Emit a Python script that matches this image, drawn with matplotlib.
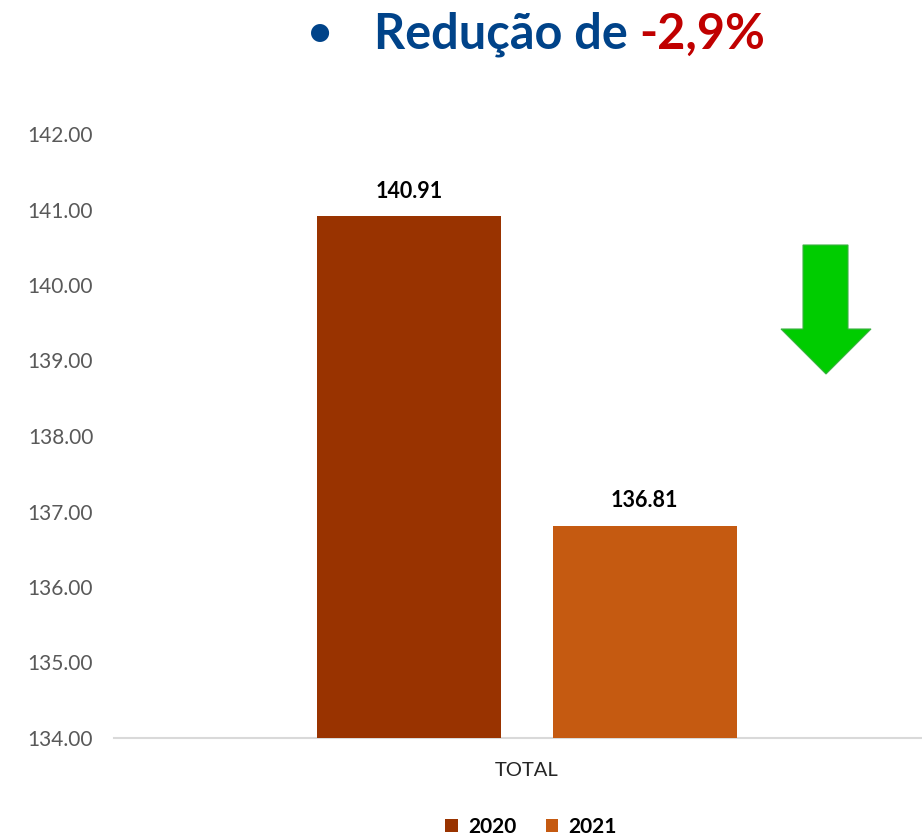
import matplotlib
matplotlib.use("Agg")
import matplotlib.pyplot as plt
from matplotlib.patches import Polygon
import numpy as np

categories = ["TOTAL"]
series_names = ["2020", "2021"]
values_2020 = [140.91]
values_2021 = [136.81]
y_ticks = [134, 135, 136, 137, 138, 139, 140, 141, 142]
title_main = "Redução de "
title_pct = "-2,9%"

colors = ["#993300", "#C55A11"]
FONT = ["Lato", "DejaVu Sans"]
plt.rcParams["font.family"] = FONT

W, H = 922, 836
fig = plt.figure(figsize=(W / 100, H / 100), dpi=100)

def fx(px):
    return px / W

def fy(py):
    return 1 - py / H

ax = fig.add_axes([fx(114), fy(738), fx(940) - fx(114), fy(134) - fy(738)])

x = np.arange(len(categories))
width = 0.223
offset = 0.1425
series = [values_2020, values_2021]
for i, (name, vals) in enumerate(zip(series_names, series)):
    pos = x + (i - 0.5) * 2 * offset
    bars = ax.bar(pos, [v - 134 for v in vals], width, bottom=134,
                  color=colors[i], label=name, zorder=3)
    for b, v in zip(bars, vals):
        ax.text(b.get_x() + b.get_width() / 2, v + 0.33, f"{v:.2f}",
                ha="center", va="center", fontsize=15.5, fontweight="bold",
                color="black")

ax.set_xlim(-0.5, 0.5)
ax.set_ylim(134, 142)
ax.set_yticks(y_ticks)
ax.set_yticklabels([f"{t:.2f}" for t in y_ticks])
ax.set_xticks(x)
ax.set_xticklabels(categories)
for s in ["top", "right", "left"]:
    ax.spines[s].set_visible(False)
ax.spines["bottom"].set_color("#D9D9D9")
ax.spines["bottom"].set_linewidth(1.5)
ax.tick_params(axis="y", length=0, pad=15, labelsize=15, labelcolor="#595959")
ax.tick_params(axis="x", length=0, pad=17, labelsize=14.5, labelcolor="#262626")

# legend
leg = fig.legend(loc="center", bbox_to_anchor=(fx(531), fy(827)), ncol=2,
                 frameon=False, handlelength=0.6, handleheight=0.6,
                 handletextpad=0.5, columnspacing=1.4,
                 prop={"size": 15, "weight": "bold", "family": FONT})

# title
fig.text(fx(320), fy(34), "•", fontsize=30, fontweight="bold",
         color="#004389", ha="center", va="center")
t1 = fig.text(fx(374), fy(34), title_main, fontsize=35, fontweight="bold",
              color="#004389", ha="left", va="center")
fig.canvas.draw()
bb = t1.get_window_extent()
fig.text(bb.x1 / W, fy(34), title_pct, fontsize=35, fontweight="bold",
         color="#C00000", ha="left", va="center")

# green arrow decoration
arrow_px = [(803, 245), (848, 245), (848, 329), (871, 329), (826, 374),
            (781, 329), (803, 329)]
arrow = Polygon([(fx(px), fy(py)) for px, py in arrow_px], closed=True,
                transform=fig.transFigure, facecolor="#00CC00",
                edgecolor="#3CB043", linewidth=0.8)
fig.patches.append(arrow)

fig.savefig("out.png", dpi=100)
